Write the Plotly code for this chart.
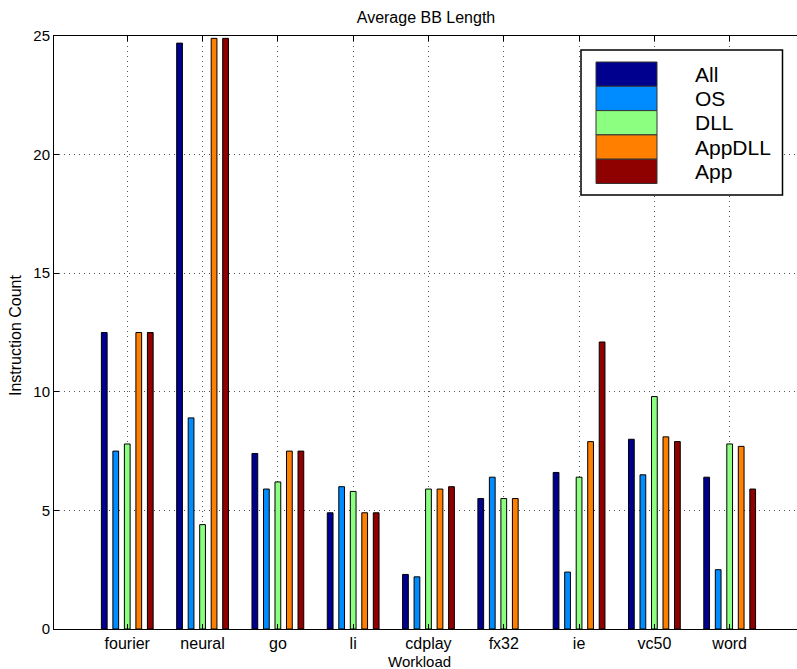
import plotly.graph_objects as go

# Workloads on the x axis
workloads = ["fourier", "neural", "go", "li", "cdplay", "fx32", "ie", "vc50", "word"]

# Average basic-block length (instructions) per code region; None = no bar
series_names = ["All", "OS", "DLL", "AppDLL", "App"]
all_vals = [12.5, 24.7, 7.4, 4.9, 2.3, 5.5, 6.6, 8.0, 6.4]
os_vals = [7.5, 8.9, 5.9, 6.0, 2.2, 6.4, 2.4, 6.5, 2.5]
dll_vals = [7.8, 4.4, 6.2, 5.8, 5.9, 5.5, 6.4, 9.8, 7.8]
appdll_vals = [12.5, 24.9, 7.5, 4.9, 5.9, 5.5, 7.9, 8.1, 7.7]
app_vals = [12.5, 24.9, 7.5, 4.9, 6.0, None, 12.1, 7.9, 5.9]

series_values = [all_vals, os_vals, dll_vals, appdll_vals, app_vals]
series_colors = ["#00008F", "#008CFF", "#8CFF80", "#FF8000", "#8F0000"]

y_ticks = [0, 5, 10, 15, 20, 25]

FONT = "Liberation Sans, Arial, Helvetica, sans-serif"

W, H = 797, 669
ML, MR, MT, MB = 54, 0, 36, 40
PW = W - ML - MR
PH = H - MT - MB

fig = go.Figure()
for name, vals, color in zip(series_names, series_values, series_colors):
    fig.add_trace(go.Bar(
        name=name,
        x=workloads,
        y=vals,
        marker=dict(color=color, line=dict(color="black", width=1)),
        showlegend=False,
    ))


def px_x(p):
    return (p - ML) / PW


def px_y(p):
    return (H - MB - p) / PH


# Legend box drawn with wide colour swatches
shapes = [dict(type="rect", xref="paper", yref="paper",
               x0=px_x(581), x1=px_x(782.5), y0=px_y(195), y1=px_y(50),
               line=dict(color="black", width=1.5), fillcolor="white", layer="above")]
annotations = []
sw_top, sw_h = 62, 24.3
for i, (name, color) in enumerate(zip(series_names, series_colors)):
    t = sw_top + i * sw_h
    shapes.append(dict(type="rect", xref="paper", yref="paper",
                       x0=px_x(596), x1=px_x(657), y0=px_y(t + sw_h), y1=px_y(t),
                       line=dict(color="#333333", width=1), fillcolor=color, layer="above"))
    annotations.append(dict(xref="paper", yref="paper", x=px_x(693), y=px_y(t + sw_h / 2),
                            text=name, showarrow=False, xanchor="left", yanchor="middle",
                            font=dict(family=FONT, size=21, color="black")))

# x-axis title
annotations.append(dict(xref="paper", yref="paper", x=px_x(419), y=px_y(661),
                        text="Workload", showarrow=False, xanchor="center", yanchor="middle",
                        font=dict(family=FONT, size=15, color="black")))

# y-axis title
annotations.append(dict(xref="paper", yref="paper", x=px_x(15), y=px_y(335),
                        text="Instruction Count", showarrow=False, textangle=-90,
                        xanchor="center", yanchor="middle",
                        font=dict(family=FONT, size=16, color="black")))

fig.update_layout(
    width=W, height=H,
    margin=dict(l=ML, r=MR, t=MT, b=MB),
    paper_bgcolor="white", plot_bgcolor="white",
    barmode="group", bargap=0.236, bargroupgap=0.5,
    title=dict(text="Average BB Length", xref="container", x=426 / W, xanchor="center",
               yref="container", y=1 - 17 / H, yanchor="middle",
               font=dict(family=FONT, size=16, color="black")),
    font=dict(family=FONT, size=14, color="black"),
    shapes=shapes,
    annotations=annotations,
)

fig.update_xaxes(
    type="category",
    range=[-0.973, 8.894],
    showline=True, linecolor="black", linewidth=1, mirror="ticks",
    ticks="inside", ticklen=5, tickcolor="black",
    showgrid=True, gridcolor="#555555", griddash="1px,4px", gridwidth=1,
    tickfont=dict(family=FONT, size=16, color="black"),
)
fig.update_yaxes(
    range=[0, 25], tickvals=y_ticks,
    showline=True, linecolor="black", linewidth=1,
    ticks="inside", ticklen=5, tickcolor="black",
    showgrid=True, gridcolor="#555555", griddash="1px,4px", gridwidth=1,
    zeroline=False,
    tickfont=dict(family=FONT, size=15, color="black"),
)

fig.write_html("out.html")
